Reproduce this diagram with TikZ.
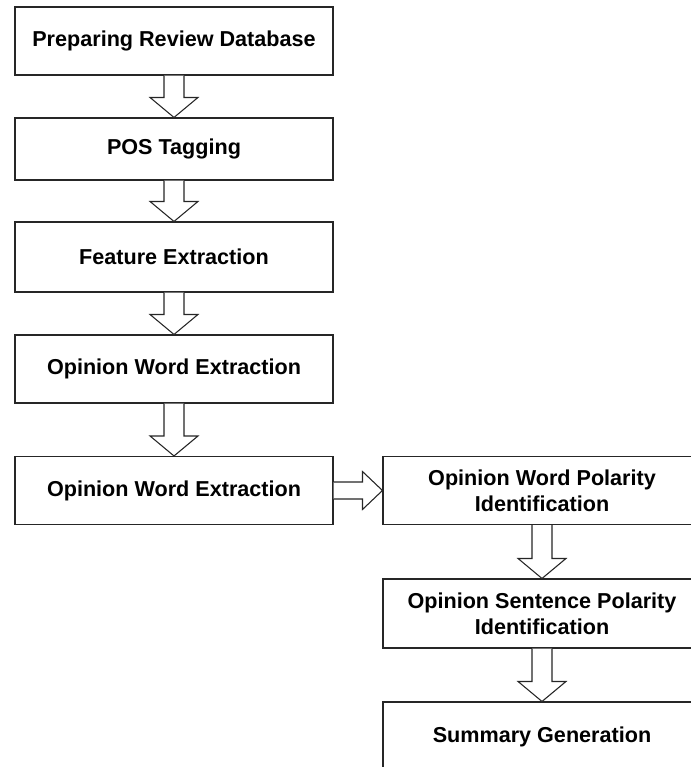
\documentclass[tikz,border=0pt]{standalone}
\usepackage{fontspec}
\setmainfont{Liberation Sans}
\usetikzlibrary{calc}

% block arrow pointing down, from the bottom of #1 to the top of #2
\newcommand{\vflow}[2]{%
  \draw[flowarrow] ($(#1.south)+(-10,0)$) -- ($(#2.north)+(-10,-20)$)
    -- ($(#2.north)+(-24,-20)$) -- (#2.north) -- ($(#2.north)+(24,-20)$)
    -- ($(#2.north)+(10,-20)$) -- ($(#1.south)+(10,0)$);}
% block arrow pointing right, from the side of #1 to the side of #2
\newcommand{\hflow}[2]{%
  \draw[flowarrow] ($(#1.east)+(0,-8.5)$) -- ($(#2.west)+(-20,-8.5)$)
    -- ($(#2.west)+(-20,-19)$) -- (#2.west) -- ($(#2.west)+(-20,19)$)
    -- ($(#2.west)+(-20,8.5)$) -- ($(#1.east)+(0,8.5)$);}

\begin{document}
\begin{tikzpicture}[x=0.75pt, y=-0.75pt,
    stage/.style={draw=black!85, line width=0.8pt, fill=white,
      minimum width=238.5pt, minimum height=51pt, inner sep=2pt,
      align=center, font=\fontsize{16.2}{19.5}\selectfont\bfseries},
    flowarrow/.style={draw=black!85, line width=0.8pt, fill=white,
      line join=miter}]
  \useasboundingbox (0,0) rectangle (691,767);
  \clip (0,0) rectangle (691,767);

  % Left column
  \node[stage] (prep) at (174,41) {Preparing Review Database};
  \node[stage, minimum height=46.5pt] (pos) at (174,149) {POS Tagging};
  \node[stage, minimum height=52.5pt] (feat) at (174,257) {Feature Extraction};
  \node[stage] (opword) at (174,369) {Opinion Word Extraction};
  \node[stage] (opword2) at (174,490.5) {Opinion Word Extraction};

  % Right column
  \node[stage] (wordpol) at (542,490.5) {Opinion Word Polarity\\Identification};
  \node[stage, minimum height=51.75pt] (sentpol) at (542,613.5)
    {Opinion Sentence Polarity\\Identification};
  \node[stage, minimum height=51.75pt] (summary) at (542,736.5) {Summary Generation};

  % Arrows
  \vflow{prep}{pos}
  \vflow{pos}{feat}
  \vflow{feat}{opword}
  \vflow{opword}{opword2}
  \hflow{opword2}{wordpol}
  \vflow{wordpol}{sentpol}
  \vflow{sentpol}{summary}
\end{tikzpicture}
\end{document}
